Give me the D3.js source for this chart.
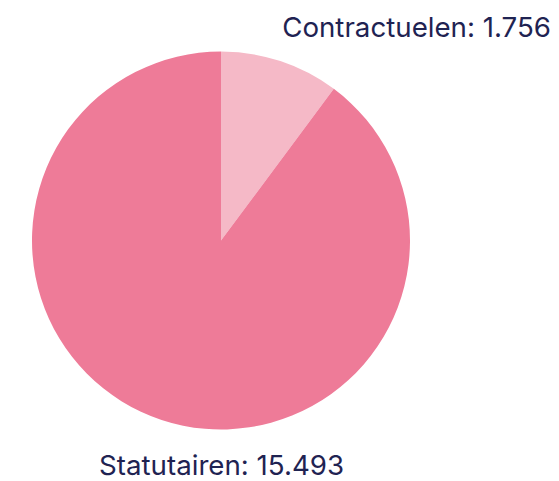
<!DOCTYPE html>
<html>
<head>
<meta charset="utf-8">
<script src="https://cdn.jsdelivr.net/npm/d3@7"></script>
<style>
  body { margin: 0; background: #fff; }
  .lbl { font-family: Inter, "Noto Sans", sans-serif; font-size: 27.7px; fill: #1f2352; }
</style>
</head>
<body>
<div id="chart"></div>
<script>
// Data
const labels = ["Contractuelen", "Statutairen"];
const values = [1756, 15493];
const valueTexts = ["1.756", "15.493"];
const colors = ["#f5b9c7", "#ee7b98"];

const svgW = 559, svgH = 481;
const cx = 221, cy = 240.5, radius = 189;

const svg = d3.select("#chart").append("svg")
  .attr("width", svgW)
  .attr("height", svgH);

const g = svg.append("g").attr("transform", `translate(${cx}, ${cy})`);

const pie = d3.pie().sort(null).value(d => d);
const arc = d3.arc().innerRadius(0).outerRadius(radius);

g.selectAll("path")
  .data(pie(values))
  .enter()
  .append("path")
  .attr("d", arc)
  .attr("fill", (d, i) => colors[i]);

// Labels
svg.append("text")
  .attr("class", "lbl")
  .attr("x", 551)
  .attr("y", 37)
  .attr("text-anchor", "end")
  .text(`${labels[0]}: ${valueTexts[0]}`);

svg.append("text")
  .attr("class", "lbl")
  .attr("x", 99)
  .attr("y", 475)
  .text(`${labels[1]}: ${valueTexts[1]}`);
</script>
</body>
</html>
